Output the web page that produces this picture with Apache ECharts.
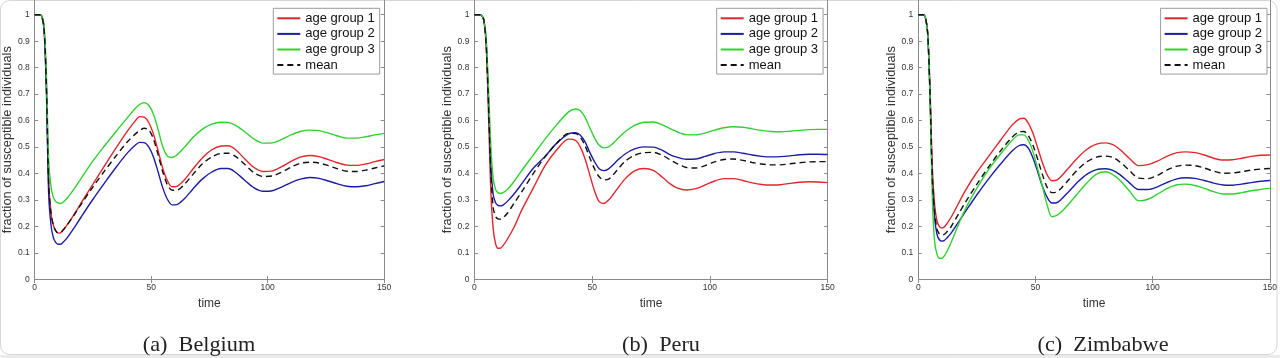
<!DOCTYPE html>
<html>
<head>
<meta charset="utf-8">
<script src="https://cdn.jsdelivr.net/npm/echarts@6.0.0/dist/echarts.min.js"></script>
<style>
html,body{margin:0;padding:0;background:#fff;}
#chart{width:1280px;height:358px;}
</style>
</head>
<body>
<div id="chart"></div>
<script>
// ---- data ----
const TIME = [0,2,3,4,5,6,7,8,9,10,11,12,14,17,20,25,30,35,40,43,45,47,49,51,53,55,57,59,61,64,68,72,76,80,83,86,90,94,98,102,106,110,114,118,122,126,130,134,138,142,146,150];

const SERIES_NAMES = ['age group 1','age group 2','age group 3','mean'];
const PANEL_TITLES = ['(a)  Belgium','(b)  Peru','(c)  Zimbabwe'];
const X_TICKS = [0,50,100,150];
const X_LABELS = ['0','50','100','150'];
const Y_TICKS = [0,0.1,0.2,0.3,0.4,0.5,0.6,0.7,0.8,0.9,1];
const Y_LABELS = ['0','0.1','0.2','0.3','0.4','0.5','0.6','0.7','0.8','0.9','1'];

// Belgium
const BE_G1 = [1,1,0.995,0.95,0.74,0.37,0.25,0.205,0.184,0.175,0.176,0.184,0.207,0.247,0.29,0.36,0.43,0.498,0.563,0.597,0.615,0.613,0.592,0.548,0.485,0.418,0.372,0.35,0.352,0.374,0.418,0.46,0.49,0.504,0.505,0.492,0.457,0.424,0.408,0.41,0.426,0.446,0.462,0.468,0.464,0.453,0.441,0.432,0.431,0.436,0.445,0.453];
const BE_G2 = [1,1,0.995,0.945,0.71,0.32,0.205,0.158,0.14,0.133,0.133,0.139,0.158,0.196,0.237,0.303,0.365,0.425,0.48,0.506,0.518,0.517,0.5,0.462,0.405,0.345,0.302,0.282,0.283,0.303,0.343,0.38,0.406,0.419,0.419,0.406,0.376,0.347,0.333,0.335,0.349,0.366,0.379,0.385,0.382,0.372,0.361,0.352,0.35,0.354,0.362,0.37];
const BE_G3 = [1,1,0.996,0.96,0.78,0.45,0.35,0.31,0.295,0.289,0.287,0.291,0.308,0.343,0.383,0.448,0.505,0.56,0.613,0.645,0.661,0.668,0.657,0.623,0.565,0.5,0.465,0.461,0.47,0.497,0.537,0.568,0.587,0.594,0.593,0.583,0.559,0.531,0.515,0.516,0.529,0.546,0.559,0.564,0.562,0.553,0.542,0.534,0.534,0.539,0.546,0.552];
const BE_MEAN = [1,1,0.995,0.95,0.74,0.36,0.25,0.205,0.185,0.177,0.177,0.185,0.207,0.245,0.285,0.35,0.41,0.468,0.522,0.548,0.562,0.571,0.565,0.53,0.47,0.405,0.357,0.337,0.337,0.357,0.398,0.437,0.463,0.476,0.477,0.466,0.436,0.404,0.389,0.391,0.405,0.424,0.439,0.443,0.44,0.43,0.418,0.409,0.408,0.413,0.421,0.429];

// Peru
const PE_G1 = [1,1,0.998,0.98,0.88,0.62,0.33,0.19,0.135,0.118,0.118,0.126,0.152,0.2,0.26,0.345,0.43,0.49,0.53,0.525,0.5,0.455,0.395,0.335,0.294,0.287,0.3,0.322,0.346,0.38,0.41,0.419,0.412,0.385,0.362,0.346,0.338,0.343,0.357,0.372,0.381,0.381,0.374,0.365,0.359,0.357,0.358,0.363,0.367,0.369,0.368,0.366];
const PE_G2 = [1,1,0.998,0.98,0.9,0.68,0.43,0.32,0.29,0.28,0.278,0.28,0.295,0.325,0.36,0.42,0.465,0.515,0.55,0.554,0.545,0.52,0.48,0.445,0.418,0.411,0.418,0.434,0.452,0.474,0.493,0.501,0.5,0.487,0.472,0.462,0.454,0.455,0.465,0.476,0.482,0.482,0.477,0.47,0.465,0.463,0.464,0.467,0.471,0.473,0.473,0.472];
const PE_G3 = [1,1,0.998,0.982,0.91,0.72,0.5,0.38,0.34,0.328,0.325,0.327,0.34,0.372,0.41,0.47,0.53,0.585,0.633,0.644,0.637,0.612,0.573,0.535,0.507,0.497,0.501,0.515,0.533,0.558,0.582,0.594,0.595,0.583,0.57,0.558,0.547,0.546,0.553,0.564,0.573,0.577,0.575,0.569,0.563,0.559,0.558,0.56,0.563,0.566,0.567,0.567];
const PE_MEAN = [1,1,0.998,0.98,0.89,0.66,0.4,0.27,0.238,0.229,0.228,0.232,0.25,0.29,0.33,0.4,0.463,0.515,0.552,0.551,0.537,0.505,0.46,0.418,0.388,0.376,0.379,0.396,0.417,0.446,0.469,0.479,0.48,0.468,0.453,0.438,0.423,0.421,0.43,0.444,0.453,0.455,0.45,0.442,0.436,0.433,0.433,0.437,0.441,0.444,0.445,0.445];

// Zimbabwe
const ZW_G1 = [1,1,0.99,0.93,0.72,0.42,0.28,0.22,0.2,0.195,0.198,0.208,0.235,0.285,0.335,0.405,0.465,0.525,0.583,0.606,0.609,0.59,0.55,0.495,0.44,0.395,0.373,0.375,0.39,0.42,0.46,0.492,0.511,0.516,0.509,0.491,0.458,0.43,0.434,0.447,0.465,0.478,0.482,0.479,0.47,0.458,0.451,0.452,0.458,0.465,0.469,0.47];
const ZW_G2 = [1,1,0.99,0.93,0.7,0.37,0.23,0.17,0.15,0.145,0.147,0.155,0.175,0.215,0.255,0.32,0.38,0.435,0.485,0.506,0.509,0.495,0.457,0.405,0.35,0.31,0.289,0.29,0.303,0.33,0.368,0.398,0.415,0.418,0.412,0.396,0.366,0.34,0.34,0.35,0.366,0.379,0.384,0.382,0.374,0.364,0.357,0.356,0.36,0.366,0.371,0.374];
const ZW_G3 = [1,1,0.99,0.93,0.68,0.3,0.14,0.095,0.08,0.08,0.088,0.102,0.14,0.205,0.265,0.345,0.415,0.473,0.525,0.546,0.546,0.525,0.48,0.415,0.35,0.28,0.237,0.242,0.255,0.283,0.325,0.365,0.398,0.407,0.396,0.375,0.335,0.297,0.303,0.322,0.343,0.357,0.36,0.355,0.344,0.332,0.323,0.323,0.328,0.335,0.34,0.344];
const ZW_MEAN = [1,1,0.99,0.93,0.7,0.38,0.25,0.19,0.172,0.168,0.17,0.178,0.2,0.245,0.29,0.36,0.425,0.485,0.537,0.557,0.559,0.543,0.505,0.452,0.395,0.348,0.328,0.33,0.345,0.375,0.415,0.445,0.462,0.466,0.461,0.444,0.412,0.383,0.381,0.393,0.413,0.427,0.432,0.43,0.421,0.409,0.401,0.402,0.407,0.413,0.417,0.419];

const PANELS = [
  [BE_G1, BE_G2, BE_G3, BE_MEAN],
  [PE_G1, PE_G2, PE_G3, PE_MEAN],
  [ZW_G1, ZW_G2, ZW_G3, ZW_MEAN]
];

// ---- styling / layout ----
const COLORS = ['#e3262b','#1c1ca6','#2fd12f','#111111'];
const PLOT_LEFT = [31, 474.4, 918.3];
const PLOT_W = 353.2;
const PLOT_H = 279.5;
const Y_MAX = 1.0555;
const CAPTION_X = [199, 661, 1103];
const AXIS_COLOR = '#8a8a8a';
const LABEL_COLOR = '#333';
const FONT = '"Liberation Sans", Arial, sans-serif';

const grid = [], xAxis = [], yAxis = [], series = [], legend = [], graphic = [];

graphic.push({type:'rect', z:-10, shape:{x:0,y:355,width:1280,height:3}, style:{fill:'#ebebeb'}});
graphic.push({type:'rect', z:-9, shape:{x:0.5,y:0.5,width:1276.5,height:354,r:9}, style:{fill:'#fff',stroke:'#d6d6d6',lineWidth:1}});

PANELS.forEach((vals, p) => {
  grid.push({left: PLOT_LEFT[p], top: 0, width: PLOT_W, height: PLOT_H, containLabel:false});
  const tick = {show:true, inside:true, length:3.5, lineStyle:{color:AXIS_COLOR, width:1}};
  // bottom x
  xAxis.push({
    gridIndex:p, type:'value', min:0, max:150, interval:50, position:'bottom',
    axisLine:{show:true, onZero:false, lineStyle:{color:AXIS_COLOR, width:1}},
    axisTick:Object.assign({}, tick, {customValues: X_TICKS}),
    axisLabel:{color:LABEL_COLOR, fontSize:8.5, fontFamily:FONT, margin:4,
      customValues: X_TICKS, formatter: v => X_LABELS[X_TICKS.indexOf(v)]},
    splitLine:{show:false},
    name:'time', nameLocation:'middle', nameGap:15,
    nameTextStyle:{color:LABEL_COLOR, fontSize:12, fontFamily:FONT}
  });
  // top x (ticks only)
  xAxis.push({
    gridIndex:p, type:'value', min:0, max:150, interval:50, position:'top',
    axisLine:{show:false}, axisTick:Object.assign({}, tick, {customValues: X_TICKS}),
    axisLabel:{show:false}, splitLine:{show:false}
  });
  // left y
  yAxis.push({
    gridIndex:p, type:'value', min:0, max:Y_MAX, position:'left',
    axisLine:{show:true, onZero:false, lineStyle:{color:AXIS_COLOR, width:1}},
    axisTick:Object.assign({}, tick, {customValues: Y_TICKS}),
    axisLabel:{color:LABEL_COLOR, fontSize:8.5, fontFamily:FONT, margin:5,
      customValues: Y_TICKS, formatter: v => Y_LABELS[Y_TICKS.indexOf(v)]},
    splitLine:{show:false},
    name:'fraction of susceptible individuals', nameLocation:'middle', nameGap:18, nameRotate:90,
    nameTextStyle:{color:LABEL_COLOR, fontSize:12.8, fontFamily:FONT}
  });
  // right y (ticks + line)
  yAxis.push({
    gridIndex:p, type:'value', min:0, max:Y_MAX, position:'right',
    axisLine:{show:true, onZero:false, lineStyle:{color:AXIS_COLOR, width:1}},
    axisTick:Object.assign({}, tick, {customValues: Y_TICKS}),
    axisLabel:{show:false}, splitLine:{show:false}
  });

  vals.forEach((arr, s) => {
    series.push({
      type:'line', name:SERIES_NAMES[s], xAxisIndex:p*2, yAxisIndex:p*2,
      data: TIME.map((t, i) => [t, arr[i]]),
      symbol:'none', showSymbol:false, smooth:0.3, clip:true, z: 2 + s,
      lineStyle:{color:COLORS[s], width:1.4, type: s === 3 ? [6,4] : 'solid'},
      itemStyle:{color:COLORS[s]},
      emphasis:{disabled:true}, silent:true, animation:false
    });
  });

  legend.push({
    show:true, orient:'vertical', left: PLOT_LEFT[p] + 242.3, top: 8.3,
    data: SERIES_NAMES.slice(), selectedMode:false,
    itemWidth:23, itemHeight:14, itemGap:1.6,
    itemStyle:{opacity:0, borderWidth:0},
    padding:[3,5,2,3], borderColor:'#9c9c9c', borderWidth:1, backgroundColor:'#fff',
    textStyle:{color:'#111', fontSize:13, fontFamily:FONT, lineHeight:14}
  });

  graphic.push({
    type:'text', x: CAPTION_X[p], y: 345, scaleX:1.06, originX:0,
    style:{text: PANEL_TITLES[p], font:'21px "Liberation Serif", "Times New Roman", serif',
      fill:'#222', align:'center', verticalAlign:'middle'}
  });
});

const chart = echarts.init(document.getElementById('chart'), null, {renderer:'canvas'});
chart.setOption({
  animation:false,
  backgroundColor:'transparent',
  grid, xAxis, yAxis, series, legend, graphic
});
</script>
</body>
</html>
